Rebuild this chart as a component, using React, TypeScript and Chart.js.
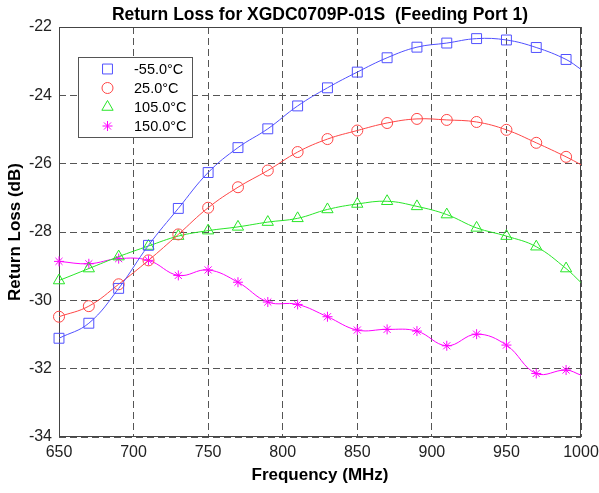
import React, { useEffect, useRef } from 'react';
import { Chart, registerables } from 'chart.js';
import { drawPoint } from 'chart.js/helpers';

Chart.register(...registerables);

// ---- data ----
const FREQS = [650, 670, 690, 710, 730, 750, 770, 790, 810, 830, 850, 870, 890, 910, 930, 950, 970, 990, 1000];
const MARKER_MAX_FREQ = 990;
const SERIES_LABELS = ['-55.0°C', '25.0°C', '105.0°C', '150.0°C'];
const RL_M55 = [-31.11, -30.67, -29.65, -28.39, -27.31, -26.26, -25.53, -24.98, -24.31, -23.78, -23.32, -22.90, -22.59, -22.47, -22.34, -22.38, -22.60, -22.95, -23.24];
const RL_25 = [-30.48, -30.17, -29.53, -28.83, -28.07, -27.29, -26.69, -26.20, -25.66, -25.28, -25.03, -24.81, -24.69, -24.72, -24.78, -25.01, -25.39, -25.80, -26.03];
const RL_105 = [-29.42, -29.07, -28.72, -28.41, -28.12, -27.96, -27.85, -27.71, -27.60, -27.34, -27.18, -27.10, -27.25, -27.49, -27.88, -28.12, -28.43, -29.07, -29.48];
const RL_150 = [-28.86, -28.93, -28.78, -28.83, -29.27, -29.11, -29.47, -30.05, -30.12, -30.48, -30.87, -30.85, -30.90, -31.33, -30.99, -31.31, -32.14, -32.04, -32.19];
const X_MIN = 650, X_MAX = 1000, X_STEP = 50;
const Y_MIN = -34, Y_MAX = -22, Y_STEP = 2;

const TITLE = 'Return Loss for XGDC0709P-01S  (Feeding Port 1)';
const X_TITLE = 'Frequency (MHz)';
const Y_TITLE = 'Return Loss (dB)';

const FONT = "'Liberation Sans', Arial, Helvetica, sans-serif";

const STYLES = [
  { color: 'rgb(80,80,255)', point: 'rect', r: 7 },
  { color: 'rgb(255,70,70)', point: 'circle', r: 5.5 },
  { color: 'rgb(40,230,40)', point: 'triangle', r: 6.5 },
  { color: 'rgb(255,0,255)', point: 'star', r: 5 },
];

const framePlugin = {
  id: 'frame',
  beforeDatasetsDraw(chart: any) {
    const { ctx, chartArea } = chart;
    const l = Math.round(chartArea.left) + 0.5;
    const t = Math.round(chartArea.top) + 0.5;
    const r = Math.round(chartArea.right) - 0.5;
    const b = Math.round(chartArea.bottom) - 0.5;
    ctx.save();
    ctx.setLineDash([]);
    ctx.strokeStyle = '#444';
    ctx.lineWidth = 1;
    ctx.strokeRect(l, t, r - l, b - t);
    ctx.restore();
  },
};

const titlePlugin = {
  id: 'centeredTitle',
  afterDraw(chart: any) {
    const { ctx, chartArea } = chart;
    ctx.save();
    ctx.fillStyle = '#000';
    ctx.font = `bold 17.5px ${FONT}`;
    ctx.textAlign = 'center';
    ctx.textBaseline = 'middle';
    ctx.fillText(TITLE, (chartArea.left + chartArea.right) / 2, 15);
    ctx.restore();
  },
};

const legendPlugin = {
  id: 'boxLegend',
  afterDraw(chart: any) {
    const ctx = chart.ctx;
    ctx.save();
    ctx.setLineDash([]);
    ctx.fillStyle = '#fff';
    ctx.fillRect(78.5, 57.5, 114, 80);
    ctx.strokeStyle = '#555';
    ctx.lineWidth = 1;
    ctx.strokeRect(78.5, 57.5, 114, 80);
    chart.data.datasets.forEach((ds: any, i: number) => {
      const st = STYLES[i];
      const y = 69 + i * 19;
      ctx.strokeStyle = st.color;
      ctx.fillStyle = 'rgba(0,0,0,0)';
      ctx.lineWidth = 1;
      drawPoint(ctx, { pointStyle: st.point, rotation: 0, radius: st.r, borderWidth: 1 } as any, 107.5, y);
      ctx.fillStyle = '#000';
      ctx.font = `14.5px ${FONT}`;
      ctx.textAlign = 'left';
      ctx.textBaseline = 'middle';
      ctx.fillText(ds.label, 134, y + 0.5);
    });
    ctx.restore();
  },
};

export default function App() {
  const ref = useRef<HTMLCanvasElement>(null);
  useEffect(() => {
    if (!ref.current) return;
    const series = [RL_M55, RL_25, RL_105, RL_150];
    const datasets = series.map((vals, i) => {
      const st = STYLES[i];
      return {
        label: SERIES_LABELS[i],
        data: FREQS.map((f, j) => ({ x: f, y: vals[j] })),
        borderColor: st.color,
        backgroundColor: 'rgba(0,0,0,0)',
        borderWidth: 1,
        pointStyle: st.point,
        pointRadius: (c: any) => (c.raw && c.raw.x > MARKER_MAX_FREQ ? 0 : st.r),
        pointBorderColor: st.color,
        pointBackgroundColor: 'rgba(0,0,0,0)',
        pointBorderWidth: 1,
        tension: 0.4,
        clip: false as any,
      };
    });
    const chart = new Chart(ref.current, {
      type: 'line',
      data: { datasets } as any,
      options: {
        responsive: false,
        animation: false,
        devicePixelRatio: 1,
        layout: { padding: { left: 0, right: 18, top: 27, bottom: 0 } },
        plugins: {
          legend: { display: false },
          tooltip: { enabled: false },
          title: { display: false },
        },
        scales: {
          x: {
            type: 'linear',
            min: X_MIN,
            max: X_MAX,
            ticks: {
              stepSize: X_STEP,
              color: '#222',
              font: { family: FONT, size: 16 },
              padding: 6,
              maxRotation: 0,
              autoSkip: false,
              callback: (v: any) => String(v),
            },
            grid: { color: '#555', lineWidth: 1, drawTicks: false },
            border: { display: false, dash: [7, 4] },
            title: {
              display: true,
              text: X_TITLE,
              color: '#000',
              font: { family: FONT, size: 17, weight: 'bold' },
              padding: { top: 0, bottom: 7 },
            },
            afterFit: (s: any) => {
              s.height = 56;
              s.paddingLeft = 0;
              s.paddingRight = 0;
            },
          },
          y: {
            type: 'linear',
            min: Y_MIN,
            max: Y_MAX,
            ticks: {
              stepSize: Y_STEP,
              color: '#222',
              font: { family: FONT, size: 16 },
              padding: 7,
              callback: (v: any) => String(v),
            },
            grid: { color: '#555', lineWidth: 1, drawTicks: false },
            border: { display: false, dash: [7, 4] },
            title: {
              display: true,
              text: Y_TITLE,
              color: '#000',
              font: { family: FONT, size: 17, weight: 'bold' },
              padding: { top: 5, bottom: 0 },
            },
            afterFit: (s: any) => {
              s.width = 59;
              s.paddingTop = 0;
              s.paddingBottom = 0;
            },
          },
        },
      } as any,
      plugins: [framePlugin, legendPlugin, titlePlugin],
    });
    return () => chart.destroy();
  }, []);
  return (
    <div style={{ position: 'absolute', left: 0, top: 0, width: 599, height: 493, background: '#fff' }}>
      <canvas ref={ref} width={599} height={493} style={{ display: 'block' }} />
    </div>
  );
}
